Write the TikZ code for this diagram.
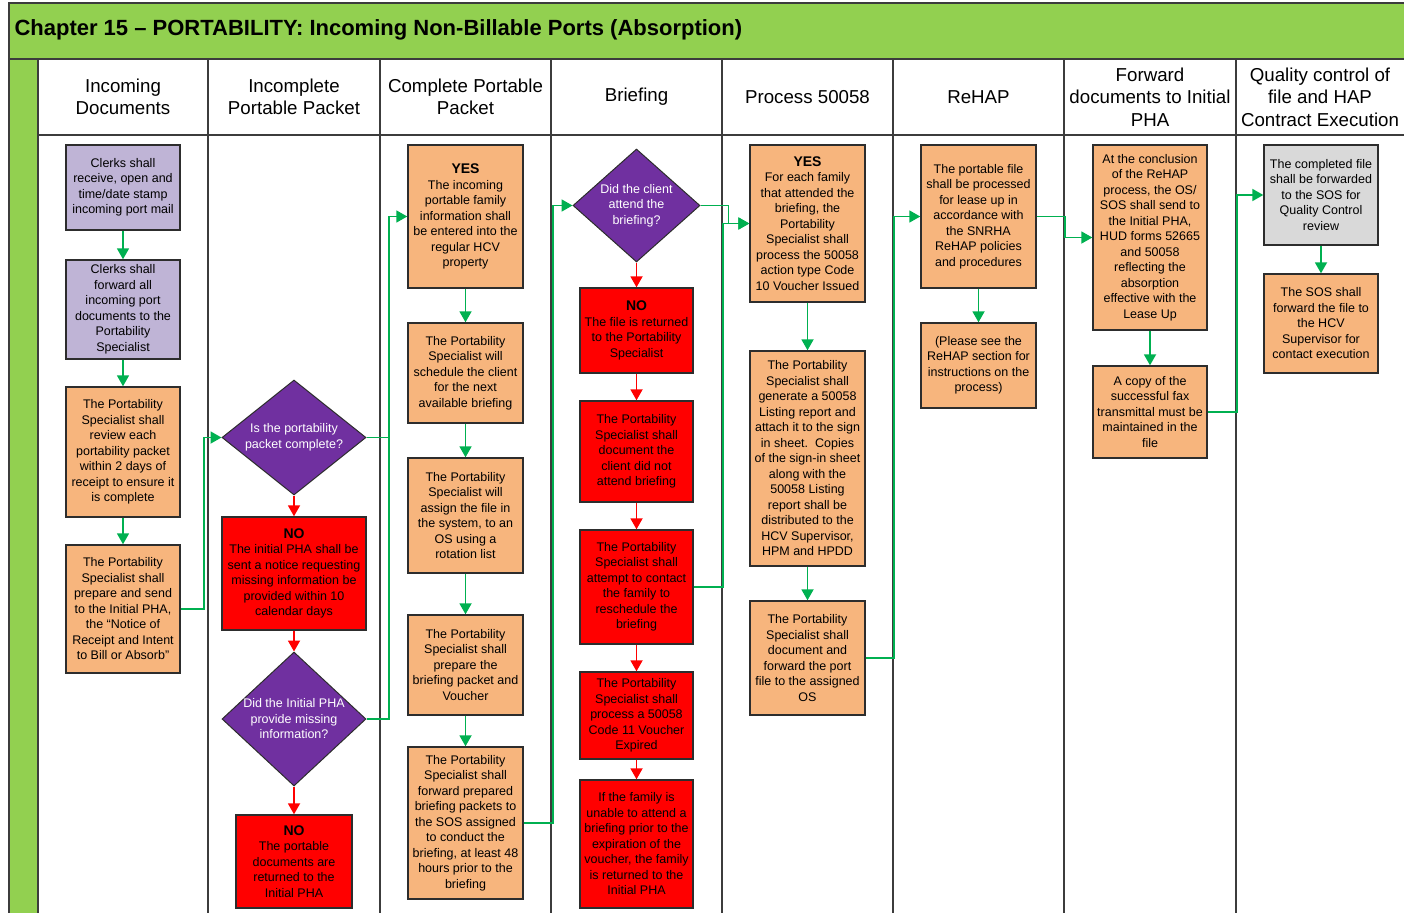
\documentclass[tikz,border=0pt]{standalone}
\usepackage{fontspec}
\setmainfont{Liberation Sans}
\usetikzlibrary{shapes.geometric,arrows.meta}
\definecolor{titlegreen}{RGB}{146,208,80}
\definecolor{arrgreen}{RGB}{0,176,80}
\definecolor{lavbox}{RGB}{191,180,214}
\definecolor{orgbox}{RGB}{247,181,125}
\definecolor{graybox}{RGB}{217,217,217}
\definecolor{decpurple}{RGB}{112,48,160}
\definecolor{boxline}{RGB}{45,45,45}
\definecolor{gridline}{RGB}{60,60,60}
\newcommand{\yesno}[1]{{\bfseries\fontsize{14}{17}\selectfont #1}}
\begin{document}
\begin{tikzpicture}[x=1pt,y=-1pt,>={Triangle[length=11pt,width=12pt]},
  box/.style={draw=boxline,line width=1.4pt,align=center,inner sep=1pt,
    minimum width=115pt,font=\fontsize{12.5}{15.5}\selectfont},
  lav/.style={box,fill=lavbox},
  org/.style={box,fill=orgbox},
  redb/.style={box,fill=red},
  grayb/.style={box,fill=graybox},
  dec/.style={diamond,draw=boxline,line width=1pt,fill=decpurple,inner sep=0pt},
  dectext/.style={text=white,align=center,font=\fontsize{12.5}{15.5}\selectfont},
  gline/.style={draw=arrgreen,line width=1.8pt},
  garr/.style={gline,->},
  rarr/.style={draw=red,line width=1.8pt,->},
  hdr/.style={align=center,font=\fontsize{18.7}{22.5}\selectfont}]
 \useasboundingbox (0,0) rectangle (1404,912);
 \clip (0,0) rectangle (1404,912);
 % title bar and lane frame
 \draw[gridline,line width=1.6pt,fill=titlegreen] (9,3) rectangle (1420,59);
 \draw[gridline,line width=1.6pt,fill=titlegreen] (9,59) rectangle (38,930);
 \node[anchor=west,font=\bfseries\fontsize{22}{26}\selectfont] (title) at (11,30)
  {Chapter 15 \textendash\ PORTABILITY: Incoming Non-Billable Ports (Absorption)};
 \draw[gridline,line width=1.6pt] (38,135) -- (1420,135);
 \foreach \xx in {208,380,551,722,893,1064,1236}
  \draw[gridline,line width=1.6pt] (\xx,59) -- (\xx,930);
 % lane headers
 \node[hdr] (hd1) at (123,97) {Incoming\\Documents};
 \node[hdr] (hd2) at (294,97) {Incomplete\\Portable Packet};
 \node[hdr] (hd3) at (465.5,97) {Complete Portable\\Packet};
 \node[hdr] (hd4) at (636.5,97) {Briefing};
 \node[hdr] (hd5) at (807.5,97) {Process 50058};
 \node[hdr] (hd6) at (978.5,97) {ReHAP};
 \node[hdr] (hd7) at (1150,97) {Forward\\documents to Initial\\PHA};
 \node[hdr] (hd8) at (1320,97) {Quality control of\\file and HAP\\Contract Execution};
 % incoming documents
 \node[lav,minimum width=114pt,minimum height=85pt] (a1) at (123,187.5)
  {Clerks shall\\receive, open and\\time/date stamp\\incoming port mail};
 \node[lav,minimum width=114pt,minimum height=99pt] (a2) at (123,309.5)
  {Clerks shall\\forward all\\incoming port\\documents to the\\Portability\\Specialist};
 \node[org,minimum width=114pt,minimum height=130pt] (a3) at (123,452)
  {The Portability\\Specialist shall\\review each\\portability packet\\within 2 days of\\receipt to ensure it\\is complete};
 \node[org,minimum width=114pt,minimum height=128pt] (a4) at (123,609)
  {The Portability\\Specialist shall\\prepare and send\\to the Initial PHA,\\the ``Notice of\\Receipt and Intent\\to Bill or Absorb''};
 % incomplete packet
 \node[dec,minimum width=144pt,minimum height=115pt] (d1) at (294,437.5) {};
 \node[dectext] (d1t) at (d1) {Is the portability\\packet complete?};
 \node[redb,minimum width=144pt,minimum height=113pt] (n1) at (294,573.5)
  {\yesno{NO}\\The initial PHA shall be\\sent a notice requesting\\missing information be\\provided within 10\\calendar days};
 \node[dec,minimum width=144pt,minimum height=134pt] (d2) at (294,719) {};
 \node[dectext] (d2t) at (d2) {Did the Initial PHA\\provide missing\\information?};
 \node[redb,minimum width=116pt,minimum height=93pt] (n2) at (294,861.5)
  {\yesno{NO}\\The portable\\documents are\\returned to the\\Initial PHA};
 % complete packet
 \node[org,minimum height=143pt] (c1) at (465.5,216.5)
  {\yesno{YES}\\The incoming\\portable family\\information shall\\be entered into the\\regular HCV\\property};
 \node[org,minimum height=100pt] (c2) at (465.5,373)
  {The Portability\\Specialist will\\schedule the client\\for the next\\available briefing};
 \node[org,minimum height=115pt] (c3) at (465.5,515.5)
  {The Portability\\Specialist will\\assign the file in\\the system, to an\\OS using a\\rotation list};
 \node[org,minimum height=100pt] (c4) at (465.5,665)
  {The Portability\\Specialist shall\\prepare the\\briefing packet and\\Voucher};
 \node[org,minimum height=152pt] (c5) at (465.5,823)
  {The Portability\\Specialist shall\\forward prepared\\briefing packets to\\the SOS assigned\\to conduct the\\briefing, at least 48\\hours prior to the\\briefing};
 % briefing
 \node[dec,minimum width=127pt,minimum height=113pt] (d3) at (636.5,205.5) {};
 \node[dectext] (d3t) at (d3) {Did the client\\attend the\\briefing?};
 \node[redb,minimum width=113pt,minimum height=85pt] (r1) at (636.5,330.5)
  {\yesno{NO}\\The file is returned\\to the Portability\\Specialist};
 \node[redb,minimum width=113pt,minimum height=101pt] (r2) at (636.5,451.5)
  {The Portability\\Specialist shall\\document the\\client did not\\attend briefing};
 \node[redb,minimum width=113pt,minimum height=114pt] (r3) at (636.5,587)
  {The Portability\\Specialist shall\\attempt to contact\\the family to\\reschedule the\\briefing};
 \node[redb,minimum width=113pt,minimum height=87pt] (r4) at (636.5,715.5)
  {The Portability\\Specialist shall\\process a 50058\\Code 11 Voucher\\Expired};
 \node[redb,minimum width=113pt,minimum height=128pt] (r5) at (636.5,844)
  {If the family is\\unable to attend a\\briefing prior to the\\expiration of the\\voucher, the family\\is returned to the\\Initial PHA};
 % process 50058
 \node[org,minimum height=157pt] (p1) at (807.5,223.5)
  {\yesno{YES}\\For each family\\that attended the\\briefing, the\\Portability\\Specialist shall\\process the 50058\\action type Code\\10 Voucher Issued};
 \node[org,minimum height=215pt] (p2) at (807.5,458.5)
  {The Portability\\Specialist shall\\generate a 50058\\Listing report and\\attach it to the sign\\in sheet.\ \ Copies\\of the sign-in sheet\\along with the\\50058 Listing\\report shall be\\distributed to the\\HCV Supervisor,\\HPM and HPDD};
 \node[org,minimum height=114pt] (p3) at (807.5,658)
  {The Portability\\Specialist shall\\document and\\forward the port\\file to the assigned\\OS};
 % rehap
 \node[org,minimum height=143pt] (e1) at (978.5,216.5)
  {The portable file\\shall be processed\\for lease up in\\accordance with\\the SNRHA\\ReHAP policies\\and procedures};
 \node[org,minimum height=85pt] (e2) at (978.5,365.5)
  {(Please see the\\ReHAP section for\\instructions on the\\process)};
 % forward to initial PHA
 \node[org,minimum width=114pt,minimum height=185pt] (f1) at (1150,237.5)
  {At the conclusion\\of the ReHAP\\process, the OS/\\SOS shall send to\\the Initial PHA,\\HUD forms 52665\\and 50058\\reflecting the\\absorption\\effective with the\\Lease Up};
 \node[org,minimum width=114pt,minimum height=92pt] (f2) at (1150,412)
  {A copy of the\\successful fax\\transmittal must be\\maintained in the\\file};
 % quality control
 \node[grayb,minimum width=114pt,minimum height=100pt] (q1) at (1321,195)
  {The completed file\\shall be forwarded\\to the SOS for\\Quality Control\\review};
 \node[org,minimum width=114pt,minimum height=99pt] (q2) at (1321,323.5)
  {The SOS shall\\forward the file to\\the HCV\\Supervisor for\\contact execution};
 % connectors
 \coordinate (bus) at (389,0);
 \draw[garr] (a1) -- (a2);
 \draw[garr] (a2) -- (a3);
 \draw[garr] (a3) -- (a4);
 \draw[garr] (a4.east) -- ++(23,0) |- (d1.west);
 \draw[rarr] (d1) -- (n1);
 \draw[rarr] (n1) -- (d2);
 \draw[rarr] (d2) -- (n2);
 \draw[gline] (d1.east) -- (bus |- d1.east);
 \draw[garr] (d2.east) -| (bus |- d1.east) |- (c1.west);
 \draw[garr] (c1) -- (c2);
 \draw[garr] (c2) -- (c3);
 \draw[garr] (c3) -- (c4);
 \draw[garr] (c4) -- (c5);
 \draw[garr] (c5.east) -- ++(29,0) |- (d3.west);
 \draw[rarr] (d3) -- (r1);
 \draw[rarr] (r1) -- (r2);
 \draw[rarr] (r2) -- (r3);
 \draw[rarr] (r3) -- (r4);
 \draw[rarr] (r4) -- (r5);
 \draw[garr] (d3.east) -- ++(28,0) |- (p1.west);
 \draw[garr] (r3.east) -- ++(29,0) |- (p1.west);
 \draw[garr] (p1) -- (p2);
 \draw[garr] (p2) -- (p3);
 \draw[garr] (p3.east) -- ++(28,0) |- (e1.west);
 \draw[garr] (e1) -- (e2);
 \draw[garr] (e1.east) -- ++(28,0) |- (f1.west);
 \draw[garr] (f1) -- (f2);
 \draw[garr] (f2.east) -- ++(29,0) |- (q1.west);
 \draw[garr] (q1) -- (q2);
\end{tikzpicture}
\end{document}
